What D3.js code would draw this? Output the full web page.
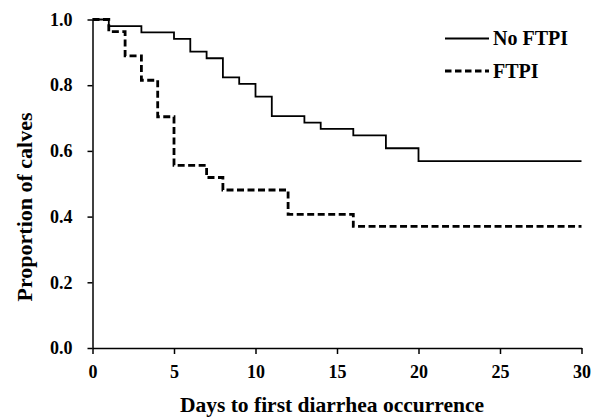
<!DOCTYPE html>
<html>
<head>
<meta charset="utf-8">
<script src="https://cdn.jsdelivr.net/npm/d3@7"></script>
<style>
  body { margin: 0; background: #fff; }
  svg { display: block; font-family: "Liberation Serif", "Times New Roman", serif; font-weight: bold; }
</style>
</head>
<body>
<svg id="chart" width="602" height="420"></svg>
<script>
// Kaplan-Meier step points (day, proportion without diarrhea)
const noFtpiDays = [0, 1, 3, 5, 6, 7, 8, 9, 10, 11, 13, 14, 16, 18, 20, 30];
const noFtpiProp = [1.0, 0.980, 0.961, 0.941, 0.902, 0.882, 0.824, 0.804, 0.765, 0.706, 0.686, 0.667, 0.647, 0.608, 0.569, 0.569];

const ftpiDays = [0, 1, 2, 3, 4, 5, 7, 8, 12, 16, 30];
const ftpiProp = [1.0, 0.963, 0.889, 0.815, 0.704, 0.556, 0.519, 0.481, 0.407, 0.370, 0.370];

const xTicks = [0, 5, 10, 15, 20, 25, 30];
const yTicks = [0, 0.2, 0.4, 0.6, 0.8, 1.0];

const series = [
  { name: "No FTPI", days: noFtpiDays, prop: noFtpiProp, dash: null, width: 1.8 },
  { name: "FTPI", days: ftpiDays, prop: ftpiProp, dash: "7,3.5", width: 2.8 },
];

const svg = d3.select("#chart");

const x = d3.scaleLinear().domain([0, 30]).range([92.5, 581.5]);
const y = d3.scaleLinear().domain([0, 1]).range([348, 19.5]);

const xAxis = svg
  .append("g")
  .attr("transform", `translate(0,${y(0)})`)
  .call(d3.axisBottom(x).tickValues(xTicks).tickSize(6).tickSizeOuter(0).tickPadding(11));

const yAxis = svg
  .append("g")
  .attr("transform", `translate(${x(0)},0)`)
  .call(
    d3.axisLeft(y).tickValues(yTicks).tickSize(5).tickSizeOuter(0).tickPadding(15)
      .tickFormat(d3.format(".1f"))
  );

[xAxis, yAxis].forEach((g) => {
  g.attr("font-family", null).attr("font-size", 18);
  g.selectAll("path, line").attr("stroke", "#000").attr("stroke-width", 1.5);
  g.selectAll("text").attr("fill", "#000");
});

const line = (s) =>
  d3.line()
    .x((d, i) => x(s.days[i]))
    .y((d) => y(d))
    .curve(d3.curveStepAfter)(s.prop);

svg
  .append("g")
  .selectAll("path")
  .data(series)
  .join("path")
  .attr("d", line)
  .attr("fill", "none")
  .attr("stroke", "#000")
  .attr("stroke-width", (d) => d.width)
  .attr("stroke-dasharray", (d) => d.dash);

// legend
const legend = svg
  .append("g")
  .selectAll("g")
  .data(series)
  .join("g")
  .attr("transform", (d, i) => `translate(445,${38.5 + i * 32.5})`);

legend
  .append("line")
  .attr("x1", 0)
  .attr("x2", 44)
  .attr("stroke", "#000")
  .attr("stroke-width", (d) => d.width)
  .attr("stroke-dasharray", (d) => (d.dash ? "6.5,3.5" : null));

legend
  .append("text")
  .attr("x", 48)
  .attr("y", 6.5)
  .attr("font-size", 20)
  .text((d) => d.name);

// axis titles
svg
  .append("text")
  .attr("x", 332)
  .attr("y", 412)
  .attr("text-anchor", "middle")
  .attr("font-size", 21.5)
  .text("Days to first diarrhea occurrence");

svg
  .append("text")
  .attr("transform", `translate(32,207) rotate(-90)`)
  .attr("text-anchor", "middle")
  .attr("font-size", 22)
  .text("Proportion of calves");
</script>
</body>
</html>
